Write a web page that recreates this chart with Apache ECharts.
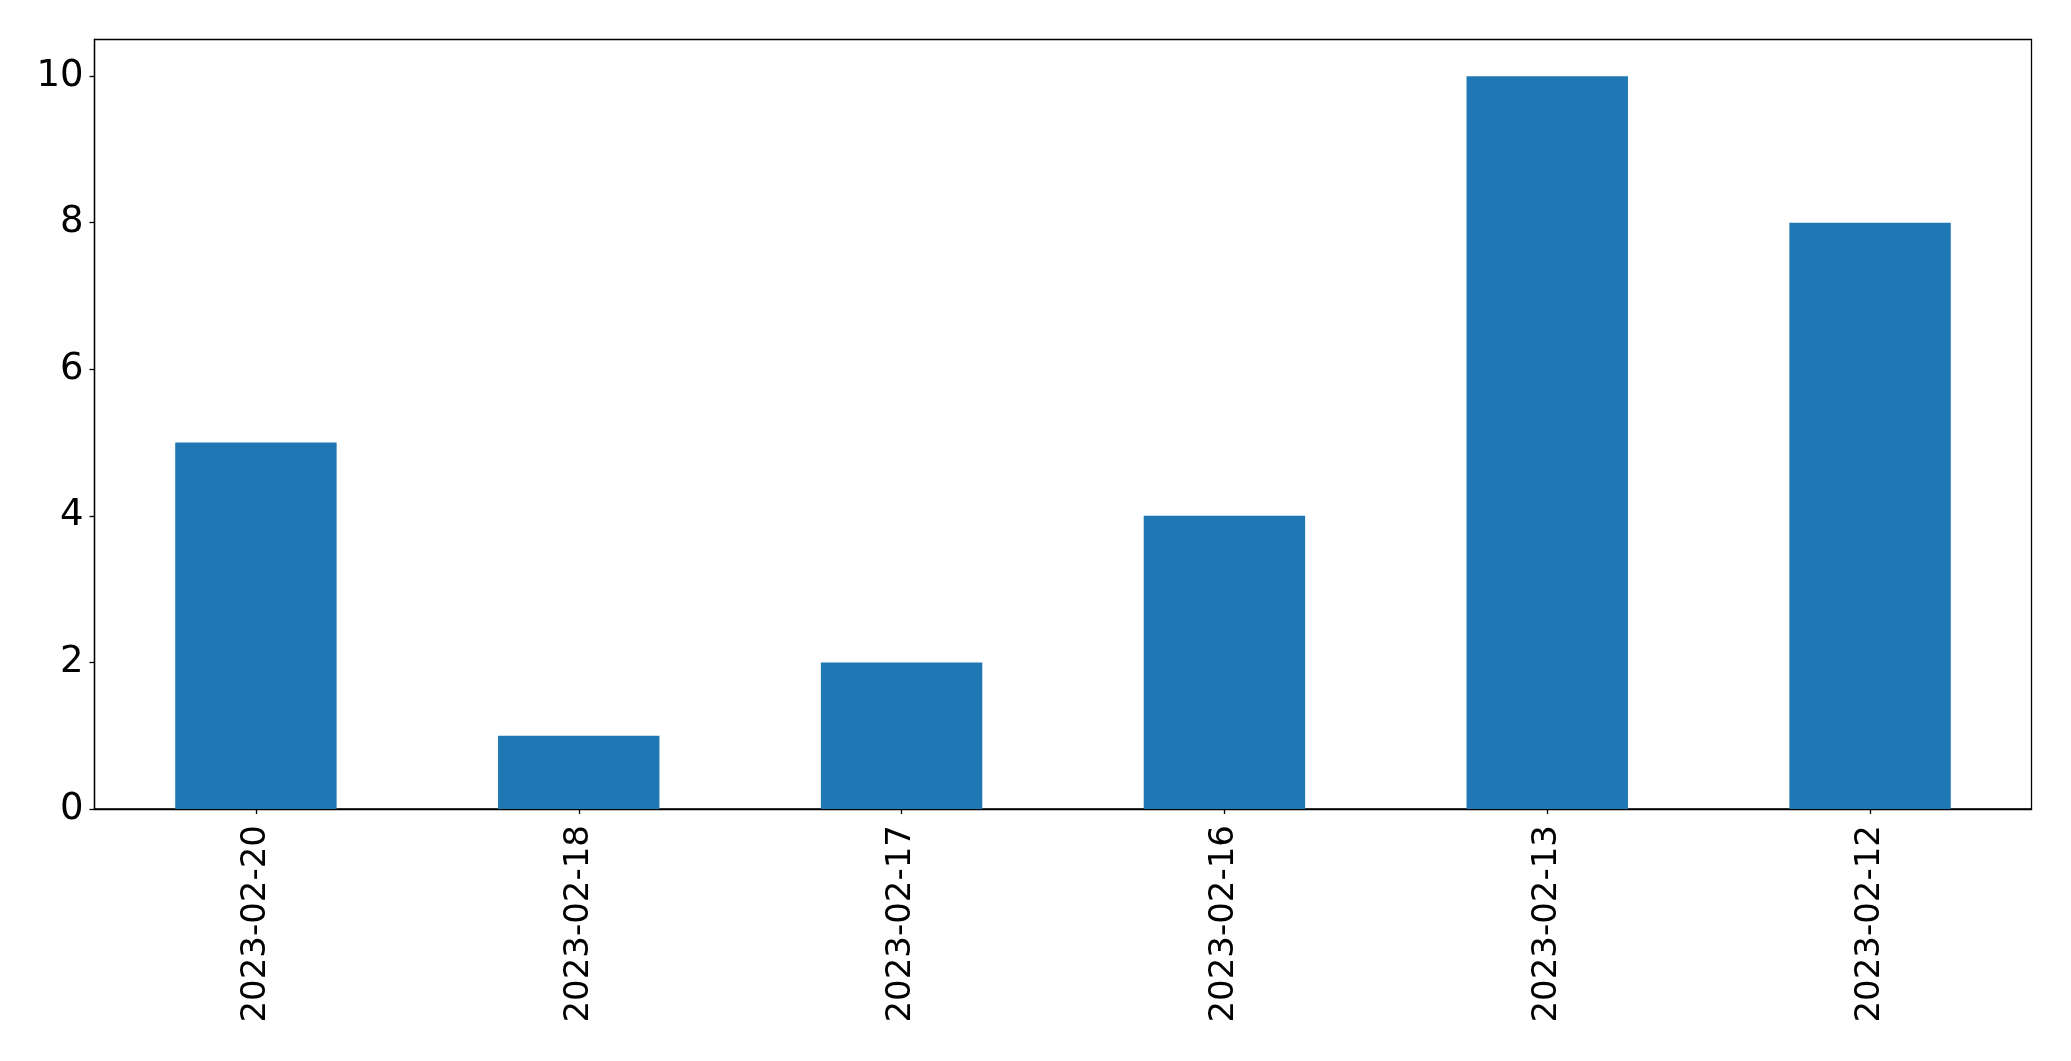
<!DOCTYPE html>
<html>
<head>
<meta charset="utf-8">
<script src="https://cdn.jsdelivr.net/npm/echarts@6/dist/echarts.min.js"></script>
<style>
html,body{margin:0;padding:0;background:#fff;}
#chart{width:2071px;height:1061px;}
</style>
</head>
<body>
<div id="chart"></div>
<script>
const categories = ['2023-02-20','2023-02-18','2023-02-17','2023-02-16','2023-02-13','2023-02-12'];
const values = [5, 1, 2, 4, 10, 8];
const yTicks = [0, 2, 4, 6, 8, 10];

const chart = echarts.init(document.getElementById('chart'), null, {renderer:'canvas'});
const font = 'DejaVu Sans';
chart.setOption({
  animation: false,
  backgroundColor: '#ffffff',
  grid: {left: 94.5, right: 39.5, top: 39.5, bottom: 252, show: true, borderColor: '#000', borderWidth: 1.3, backgroundColor: 'transparent'},
  xAxis: {
    type: 'category',
    data: categories,
    boundaryGap: true,
    axisLine: {show: true, lineStyle: {color: '#000', width: 1.3}},
    axisTick: {show: true, alignWithLabel: true, length: 5, lineStyle: {color: '#000', width: 1.3}},
    axisLabel: {rotate: 90, fontFamily: font, fontSize: 34, color: '#000', margin: 16, interval: 0},
    splitLine: {show: false}
  },
  yAxis: {
    type: 'value',
    min: 0,
    max: 10.5,
    interval: 2,
    axisLine: {show: true, lineStyle: {color: '#000', width: 1.3}},
    axisTick: {show: true, length: 5, lineStyle: {color: '#000', width: 1.3}},
    axisLabel: {fontFamily: font, fontSize: 37, color: '#000', margin: 11, showMaxLabel: false,
      formatter: v => (yTicks.indexOf(v) >= 0 ? String(v) : '')},
    splitLine: {show: false}
  },
  series: [{
    type: 'bar',
    data: values,
    barWidth: '50%',
    itemStyle: {color: '#1f77b4'}
  }]
});
</script>
</body>
</html>
